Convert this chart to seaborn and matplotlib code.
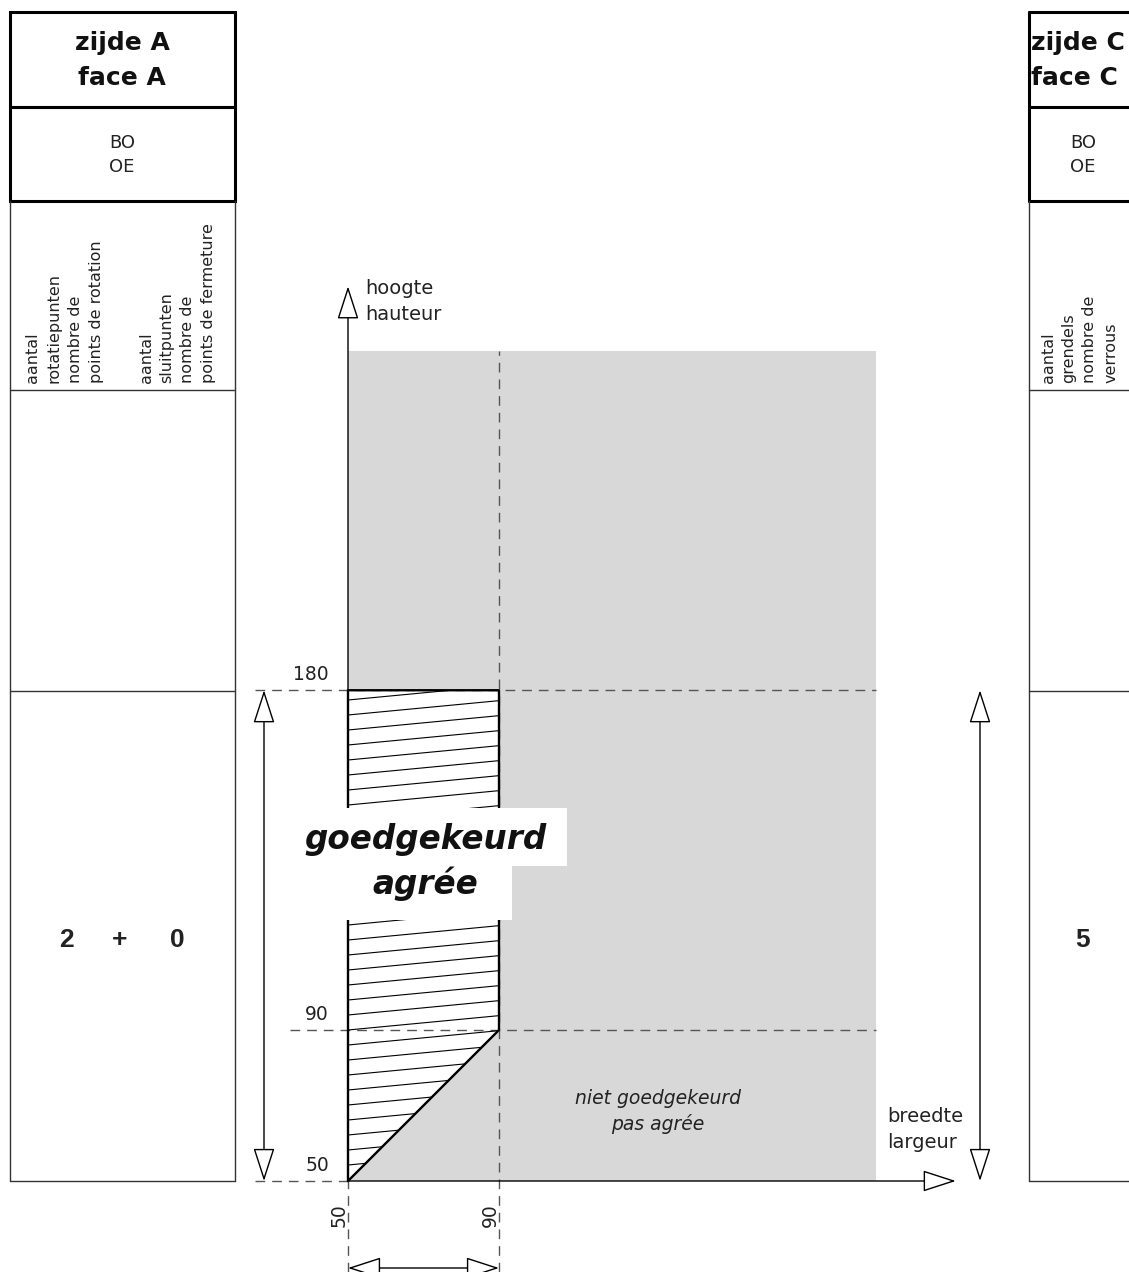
import numpy as np
import matplotlib.pyplot as plt
import seaborn as sns
from matplotlib.patches import Polygon, Rectangle, FancyArrowPatch

sns.set_theme(style="white")
plt.rcParams["font.family"] = ["DejaVu Sans"]

# ==============================
# data (cm)
# ==============================
grens_breedte = [50, 50, 90, 90, 50]      # rand van het goedgekeurde gebied
grens_hoogte = [50, 180, 180, 90, 50]
grijs_breedte = [50, 190]                 # grijs veld (niet goedgekeurd)
grijs_hoogte = [50, 270]
hoogte_ticks = [50, 90, 180]
breedte_ticks = [50, 90]
as_eind_breedte = 211
as_eind_hoogte = 287

links_kop = ["zijde A", "face A"]
rechts_kop = ["zijde C", "face C"]
bo_oe = ["BO", "OE"]
links_tekst_1 = ["aantal", "rotatiepunten", "nombre de", "points de rotation"]
links_tekst_2 = ["aantal", "sluitpunten", "nombre de", "points de fermeture"]
rechts_tekst = ["aantal", "grendels", "nombre de", "verrous"]
links_waarden = ["2", "+", "0"]
rechts_waarden = ["5"]

# ==============================
# figuur: pixel overlay + data-assen
# ==============================
W, H = 1129, 1272
S = 151 / 40            # pixels per cm
X0, Y0 = 348, 1181      # pixelpositie van (50, 50)

fig = plt.figure(figsize=(W / 100, H / 100), dpi=100)
fig.patch.set_facecolor("white")

ax = fig.add_axes([0, 0, 1, 1])
ax.set_xlim(50 - X0 / S, 50 + (W - X0) / S)
ax.set_ylim(50 - (H - Y0) / S, 50 + Y0 / S)
ax.axis("off")

ov = fig.add_axes([0, 0, 1, 1], zorder=5)
ov.set_xlim(0, W)
ov.set_ylim(H, 0)
ov.patch.set_alpha(0)
ov.axis("off")


def dx(px):
    return 50 + (px - X0) / S


def dy(py):
    return 50 + (Y0 - py) / S


# grijs veld
ax.fill_between(grijs_breedte, grijs_hoogte[0], grijs_hoogte[1],
                color="#d8d8d8", lw=0, zorder=1)

# goedgekeurd gebied: wit + arcering
poly = Polygon(list(zip(grens_breedte, grens_hoogte)), closed=True,
               facecolor="white", edgecolor="none", zorder=2)
ax.add_patch(poly)
for y0 in np.arange(90 - 15 * 4 / S * 3, 185, 15 / S):
    ln, = ax.plot([50, 90], [y0, y0 + 0.095 * 40], color="black", lw=0.8, zorder=3)
    ln.set_clip_path(poly)

# stippellijnen
dash = (0, (7, 5))
ax.plot([dx(255), grijs_breedte[1]], [180, 180], color="#555555", lw=1, ls=dash, zorder=2.5)
ax.plot([dx(290), grijs_breedte[1]], [90, 90], color="#555555", lw=1, ls=dash, zorder=2.5)
ax.plot([dx(255), 50], [50, 50], color="#555555", lw=1, ls=dash, zorder=2.5)
ax.plot([90, 90], [ax.get_ylim()[0], grijs_hoogte[1]], color="#555555", lw=1, ls=dash, zorder=2.5)
ax.plot([50, 50], [ax.get_ylim()[0], 50], color="#555555", lw=1, ls=dash, zorder=2.5)

# rand goedgekeurd gebied
sns.lineplot(x=grens_breedte, y=grens_hoogte, sort=False, estimator=None,
             color="black", lw=1.7, ax=ax, zorder=4)

# assen met open pijlpunten
def pijl(p1, p2, stijl, lw=1.0):
    a = FancyArrowPatch(p1, p2, arrowstyle=stijl, mutation_scale=10,
                        shrinkA=0, shrinkB=0, lw=lw, edgecolor="black",
                        facecolor="white", zorder=4.5)
    ax.add_patch(a)


kop = "-|>,head_length=2.1,head_width=0.68"
kop2 = "<|-|>,head_length=2.1,head_width=0.68"
pijl((50, 50), (50, as_eind_hoogte), kop)
pijl((50, 50), (as_eind_breedte, 50), kop)
pijl((dx(264), 180), (dx(264), 50), kop2)
pijl((dx(980), 180), (dx(980), 50), kop2)
pijl((50, dy(1268)), (90, dy(1268)), kop2)

# tick labels
for h in hoogte_ticks:
    ax.text(dx(329), h + 1.6, str(h), ha="right", va="bottom", fontsize=13.5,
            color="#222222", zorder=5)
for b in breedte_ticks:
    ax.text(b - 2.4, dy(1215), str(b), ha="center", va="center", rotation=90,
            fontsize=13.5, color="#222222", zorder=5)

# as-titels
ax.text(dx(365), dy(289), "hoogte", ha="left", va="center", fontsize=14, color="#222222")
ax.text(dx(365), dy(314), "hauteur", ha="left", va="center", fontsize=14, color="#222222")
ax.text(dx(887), dy(1116), "breedte", ha="left", va="center", fontsize=14, color="#222222")
ax.text(dx(887), dy(1143), "largeur", ha="left", va="center", fontsize=14, color="#222222")
ax.text(dx(658), dy(1098), "niet goedgekeurd", ha="center", va="center",
        fontsize=13.5, style="italic", color="#222222", zorder=5)
ax.text(dx(658), dy(1124), "pas agrée", ha="center", va="center",
        fontsize=13.5, style="italic", color="#222222", zorder=5)

# label goedgekeurd met witte achtergrond
ov.add_patch(Rectangle((278, 808), 289, 58, facecolor="white", edgecolor="none"))
ov.add_patch(Rectangle((300, 866), 212, 54, facecolor="white", edgecolor="none"))
ov.text(425, 840, "goedgekeurd", ha="center", va="center", fontsize=23.5,
        weight="bold", style="italic", color="#111111")
ov.text(425, 884, "agrée", ha="center", va="center", fontsize=23.5,
        weight="bold", style="italic", color="#111111")

# ==============================
# tabellen
# ==============================
rijen = [12, 107, 201, 390, 691, 1181]
dik, dun = 2.2, 1.0

# links
ov.add_patch(Rectangle((10, 12), 225, 95, fill=False, lw=dik, edgecolor="black"))
ov.add_patch(Rectangle((10, 107), 225, 94, fill=False, lw=dik, edgecolor="black"))
for xv in [10, 235]:
    ov.plot([xv, xv], [201, 1181], color="#333333", lw=dun)
for yv in rijen[3:]:
    ov.plot([10, 235], [yv, yv], color="#333333", lw=dun)

# rechts
for yv in rijen[:3]:
    ov.plot([1029, W + 5], [yv, yv], color="black", lw=dik)
ov.plot([1029, 1029], [12, 201], color="black", lw=dik)
ov.plot([1029, 1029], [201, 1181], color="#333333", lw=dun)
for yv in rijen[3:]:
    ov.plot([1029, W + 5], [yv, yv], color="#333333", lw=dun)

# koppen
for i, t in enumerate(links_kop):
    ov.text(122, 43 + 35 * i, t, ha="center", va="center", fontsize=18,
            weight="bold", color="#111111")
for i, t in enumerate(rechts_kop):
    ov.text(1031, 43 + 35 * i, t, ha="left", va="center", fontsize=18,
            weight="bold", color="#111111")
for i, t in enumerate(bo_oe):
    ov.text(122, 143 + 24 * i, t, ha="center", va="center", fontsize=13, color="#222222")
    ov.text(1083, 143 + 24 * i, t, ha="center", va="center", fontsize=13, color="#222222")

# verticale teksten
for x0, regels in [(33, links_tekst_1), (146, links_tekst_2), (1048, rechts_tekst)]:
    for i, t in enumerate(regels):
        ov.text(x0 + 21 * i, 383, t, ha="center", va="bottom", rotation=90,
                fontsize=11.5, color="#222222")

# waarden
for xv, t in zip([66, 120, 177], links_waarden):
    ov.text(xv, 940, t, ha="center", va="center", fontsize=19, weight="bold",
            family=["Liberation Sans", "DejaVu Sans"], color="#222222")
for xv, t in zip([1083], rechts_waarden):
    ov.text(xv, 940, t, ha="center", va="center", fontsize=19, weight="bold",
            family=["Liberation Sans", "DejaVu Sans"], color="#222222")

fig.savefig("out.png", dpi=100, facecolor="white")
